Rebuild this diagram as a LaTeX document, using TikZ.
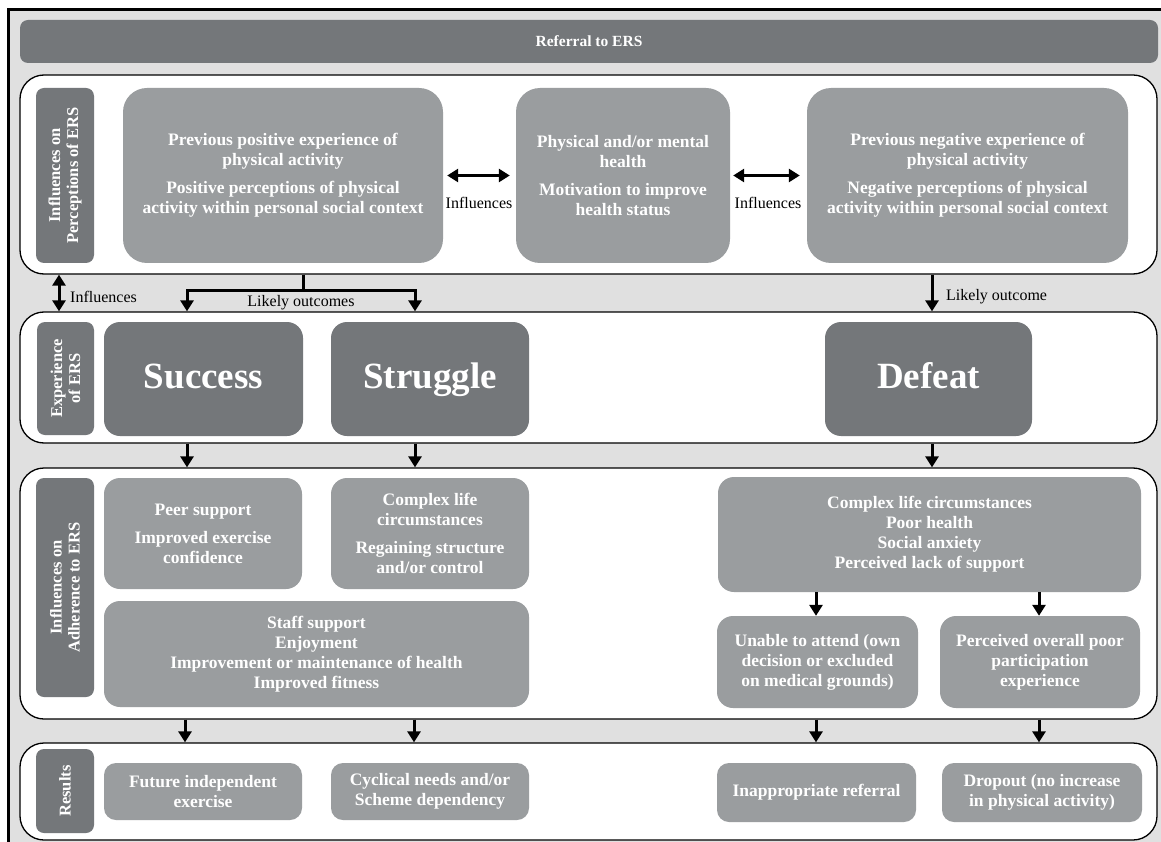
\documentclass[tikz,border=0pt]{standalone}
\usepackage{fontspec}
\setmainfont{Liberation Serif}
\usetikzlibrary{arrows.meta}

\begin{document}
\begin{tikzpicture}[x=1pt,y=-1pt,
    panel/.style={draw=black, line width=1.3pt, fill=white, rounded corners=24pt,
      minimum width=1137pt, inner sep=0pt},
    sidebox/.style={fill=darkbox, rounded corners=8pt, rotate=90, inner sep=0pt, text=white,
      align=center, font=\bfseries\fontsize{16.5}{18}\selectfont},
    lightbox/.style={fill=lightbox, rounded corners=16pt, inner sep=2pt, text=white,
      align=center, font=\bfseries\fontsize{17.5}{20}\selectfont},
    bigbox/.style={fill=darkbox, rounded corners=16pt, text=white, text height=26pt, text depth=8pt,
      font=\bfseries\fontsize{37}{40}\selectfont},
    note/.style={inner sep=0pt, font=\fontsize{16}{18}\selectfont},
    arr/.style={line width=3pt, -{Triangle[length=11pt,width=13pt]}},
    darr/.style={line width=3pt, {Triangle[length=11pt,width=13pt]}-{Triangle[length=11pt,width=13pt]}}]

  % Changing colours
  \definecolor{darkbox}{RGB}{116,119,122}%
  \definecolor{lightbox}{RGB}{154,157,159}%
  \definecolor{backgr}{RGB}{224,224,224}%

  \useasboundingbox (0,0) rectangle (1161,842);

  % Drawing frame
  \fill[backgr] (8,10) rectangle (1161,842);
  \draw[line width=3pt] (8,842) -- (8,10) -- (1161,10);

  % Referral bar
  \node[fill=darkbox, rounded corners=8pt, minimum width=1138pt, minimum height=43pt,
    text=white, font=\bfseries\fontsize{15.5}{17}\selectfont] (referral) at (589,41.5) {Referral to ERS};

  % Row 1: perceptions
  \node[panel, minimum height=199pt] (row1) at (588.5,174.5) {};
  \node[sidebox, minimum width=175pt, minimum height=58pt] (lab1) at (65,175.5)
    {Influences on\\Perceptions of ERS};
  \node[lightbox, rounded corners=24pt, minimum width=320pt, minimum height=175pt] (posA) at (283,175.5)
    {Previous positive experience of\\physical activity\\[8pt]
     Positive perceptions of physical\\activity within personal social context};
  \node[lightbox, rounded corners=24pt, minimum width=214pt, minimum height=175pt] (health) at (623,175.5)
    {Physical and/or mental\\health\\[8pt]Motivation to improve\\health status};
  \node[lightbox, rounded corners=24pt, minimum width=321pt, minimum height=175pt] (negC) at (967.5,175.5)
    {Previous negative experience of\\physical activity\\[8pt]
     Negative perceptions of physical\\activity within personal social context};

  \draw[darr, shorten <=4pt, shorten >=6pt] (posA.east) -- (health.west);
  \node[note] (inflA) at (479,203) {Influences};
  \draw[darr, shorten <=3pt, shorten >=7pt] (health.east) -- (negC.west);
  \node[note] (inflB) at (768,203) {Influences};

  % Row 2: experience
  \node[panel, minimum height=131pt] (row2) at (588.5,377.5) {};
  \node[sidebox, minimum width=113pt, minimum height=57pt] (lab2) at (65.5,378.5)
    {Experience\\of ERS};
  \node[bigbox, minimum width=199pt, minimum height=114pt] (success) at (203.5,379) {Success};
  \node[bigbox, minimum width=198pt, minimum height=114pt] (struggle) at (430,379) {Struggle};
  \node[bigbox, minimum width=207pt, minimum height=114pt] (defeat) at (928.5,379) {Defeat};

  % Arrows between row 1 and row 2
  \coordinate (fork) at (303,290);
  \coordinate (forkL) at (187,290);
  \coordinate (forkR) at (415,290);
  \draw[line width=3pt] (row1.south -| fork) -- (fork);
  \draw[arr] (fork) -- (forkL) -- (forkL |- row2.north);
  \draw[arr] (fork) -- (forkR) -- (forkR |- row2.north);
  \node[note] (likely) at (301,303) {Likely outcomes};
  \draw[darr] (row1.south -| 59,0) -- (row2.north -| 59,0);
  \node[note, anchor=west] (inflL) at (70,297) {Influences};
  \draw[arr] (row1.south -| 932,0) -- (row2.north -| 932,0);
  \node[note, anchor=west] (likelyR) at (946,297) {Likely outcome};

  % Row 3: adherence
  \node[panel, minimum height=251pt] (row3) at (588.5,593.5) {};
  \node[sidebox, minimum width=219pt, minimum height=58pt] (lab3) at (65,587.5)
    {Influences on\\Adherence to ERS};
  \node[lightbox, minimum width=198pt, minimum height=111pt] (peer) at (203,533.5)
    {Peer support\\[8pt]Improved exercise\\confidence};
  \node[lightbox, minimum width=198pt, minimum height=111pt] (complex) at (430,533.5)
    {Complex life\\circumstances\\[8pt]Regaining structure\\and/or control};
  \node[lightbox, minimum width=425pt, minimum height=106pt] (staff) at (316.5,654)
    {Staff support\\Enjoyment\\Improvement or maintenance of health\\Improved fitness};
  \node[lightbox, minimum width=423pt, minimum height=115pt] (dcomplex) at (929.5,534.5)
    {Complex life circumstances\\Poor health\\Social anxiety\\Perceived lack of support};
  \node[lightbox, minimum width=201pt, minimum height=92pt] (unable) at (817.5,662)
    {Unable to attend (own\\decision or excluded\\on medical grounds)};
  \node[lightbox, minimum width=200pt, minimum height=92pt] (poorexp) at (1040,662)
    {Perceived overall poor\\participation\\experience};

  \draw[arr] (dcomplex.south -| 816,0) -- (unable.north -| 816,0);
  \draw[arr] (dcomplex.south -| 1039,0) -- (poorexp.north -| 1039,0);

  % Arrows between row 2 and row 3
  \draw[arr] (row2.south -| forkL) -- (row3.north -| forkL);
  \draw[arr] (row2.south -| forkR) -- (row3.north -| forkR);
  \draw[arr] (row2.south -| 932,0) -- (row3.north -| 932,0);

  % Row 4: results
  \node[panel, minimum height=97pt] (row4) at (588.5,791.5) {};
  \node[sidebox, minimum width=84pt, minimum height=58pt] (lab4) at (65,791) {Results};
  \node[lightbox, rounded corners=12pt, minimum width=198pt, minimum height=57pt] (future) at (203,791.5)
    {Future independent\\exercise};
  \node[lightbox, rounded corners=12pt, minimum width=198pt, minimum height=57pt] (cyclic) at (430,791.5)
    {Cyclical needs and/or\\Scheme dependency};
  \node[lightbox, rounded corners=12pt, minimum width=199pt, minimum height=59pt] (inappr) at (816.5,792.5)
    {Inappropriate referral};
  \node[lightbox, rounded corners=12pt, minimum width=200pt, minimum height=59pt] (dropout) at (1042,792.5)
    {Dropout (no increase\\in physical activity)};

  % Arrows between row 3 and row 4
  \draw[arr] (row3.south -| 185,0) -- (row4.north -| 185,0);
  \draw[arr] (row3.south -| 414,0) -- (row4.north -| 414,0);
  \draw[arr] (row3.south -| 816,0) -- (row4.north -| 816,0);
  \draw[arr] (row3.south -| 1039,0) -- (row4.north -| 1039,0);
\end{tikzpicture}
\end{document}
